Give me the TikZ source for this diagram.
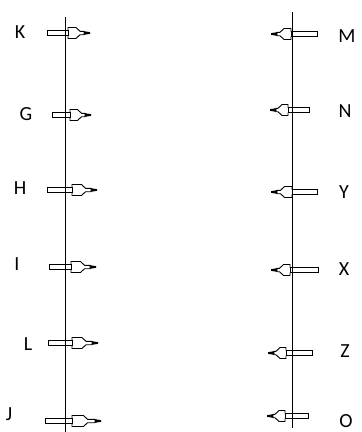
\documentclass[tikz,border=0pt]{standalone}
\usepackage{fontspec}
\setmainfont{Carlito}
\begin{document}
\begin{tikzpicture}
[
x=1pt,y=-1pt,
tag/.style={font=\fontsize{20}{22}\selectfont,text=black,inner sep=0pt},
track/.style={draw,line width=1pt},
outline/.style={draw,line width=0.9pt},
pics/blockarrow/.style 2 args={code={
            \draw[outline] (-#1,-2.5) rectangle (0,2.5);
            \draw[outline] (0,-2.5) -- (0,-5.5) -- (0.5*#2,-5.5) -- (0.5*#2+4,-1.7) -- (#2,-1.7) -- (#2,1.7)
                        -- (0.5*#2+4,1.7) -- (0.5*#2,5.5) -- (0,5.5) -- (0,2.5);
            \fill (#2,-1.8) -- (#2+6,-0.8) -- (#2+6,0.8) -- (#2,1.8) -- cycle;
}},
]
\useasboundingbox (0,0) rectangle (362,432);

%Place the tracks
\coordinate (ltop) at (65,17);
\coordinate (lbot) at (65,432);
\coordinate (rtop) at (292,12);
\coordinate (rbot) at (292,428);
\draw[track] (ltop) -- (lbot);
\draw[track] (rtop) -- (rbot);

%Place the labels
\node[tag] (k) at (20,32) {K};
\node[tag] (g) at (26,114) {G};
\node[tag] (h) at (20,188) {H};
\node[tag] (i) at (17,264) {I};
\node[tag] (l) at (28,344) {L};
\node[tag] (j) at (9,414) {J};
\node[tag] (m) at (347,36) {M};
\node[tag] (n) at (345,111) {N};
\node[tag] (y) at (344,192) {Y};
\node[tag] (x) at (344,269) {X};
\node[tag] (z) at (345,351) {Z};
\node[tag] (o) at (346,421) {O};

%Draw the arrows
\pic at (68,33) {blockarrow={21}{16}};
\pic at (70,115) {blockarrow={18}{15}};
\pic at (72,190) {blockarrow={25}{19}};
\pic at (71,267) {blockarrow={22}{19}};
\pic at (72,343) {blockarrow={24}{20}};
\pic at (72,421) {blockarrow={27}{23}};
\pic[xscale=-1] at (291,34) {blockarrow={26}{14}};
\pic[xscale=-1] at (288,110) {blockarrow={21}{12}};
\pic[xscale=-1] at (292,192) {blockarrow={25}{15}};
\pic[xscale=-1] at (290,270) {blockarrow={28}{13}};
\pic[xscale=-1] at (286,353) {blockarrow={26}{12}};
\pic[xscale=-1] at (285,416) {blockarrow={23}{12}};
\end{tikzpicture}
\end{document}
